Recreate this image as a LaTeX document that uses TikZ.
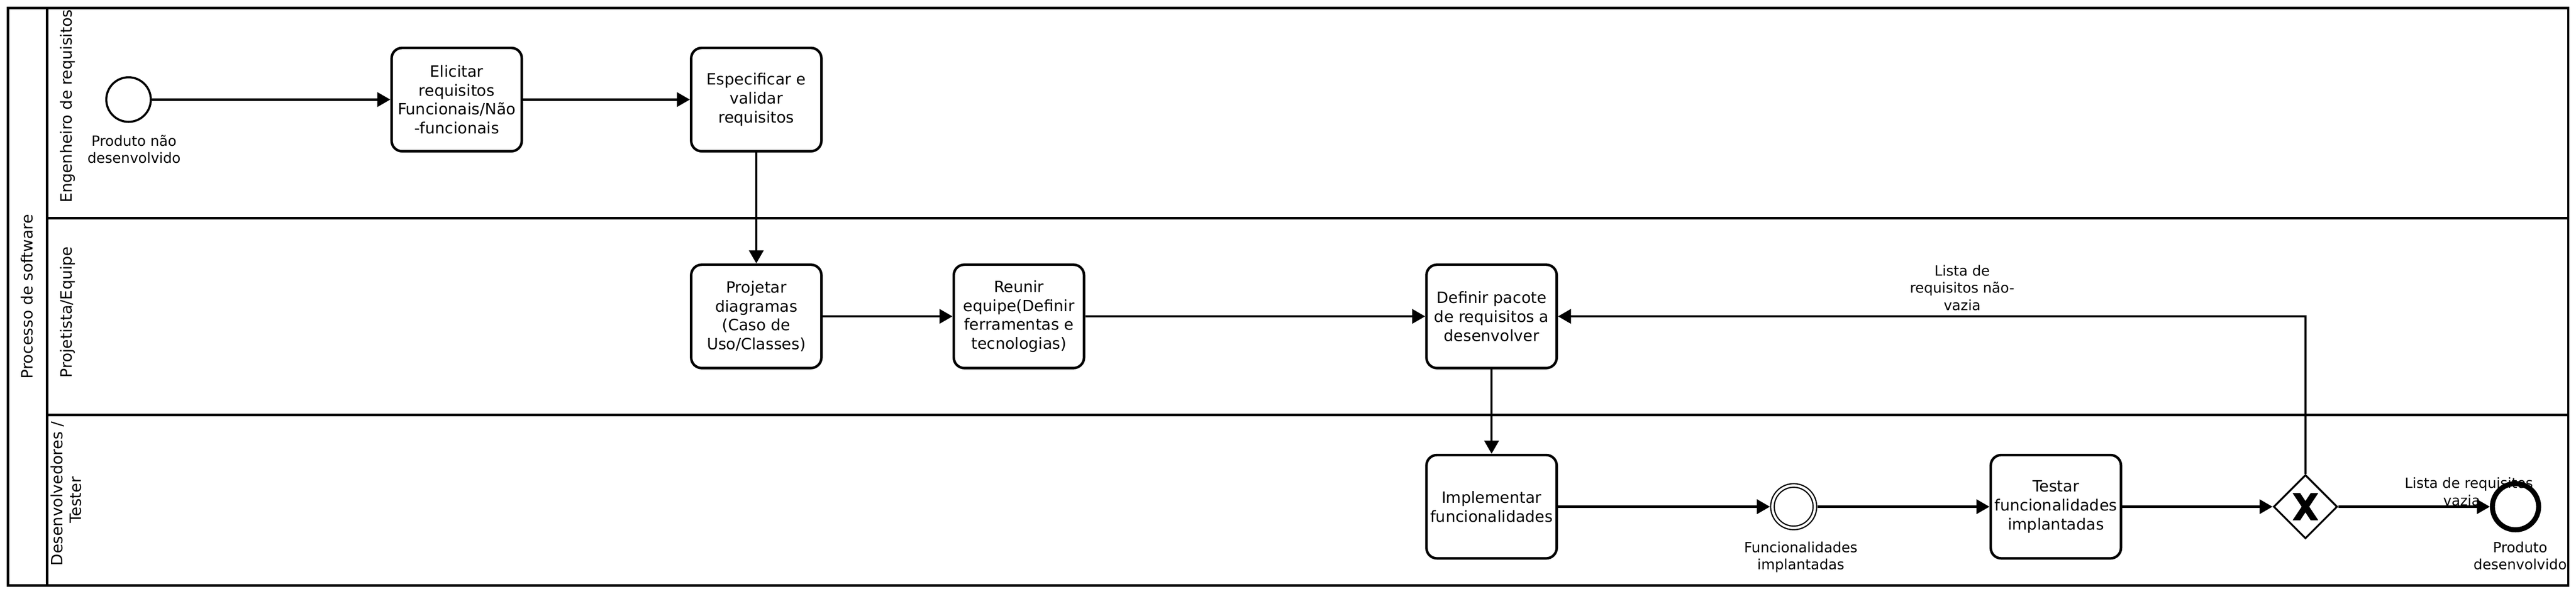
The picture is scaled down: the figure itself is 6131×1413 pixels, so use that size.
\documentclass[tikz,border=0pt]{standalone}
\usepackage{fontspec}
\setmainfont{DejaVu Sans}
\usetikzlibrary{arrows.meta,shapes.geometric}
\begin{document}
\begin{tikzpicture}[x=1pt,y=-1pt,
  task/.style={draw, line width=6pt, rounded corners=25pt, minimum width=310pt, minimum height=246pt, inner sep=0pt, align=center, font=\fontsize{37pt}{45pt}\selectfont},
  lanelbl/.style={rotate=90, align=center, inner sep=0pt, font=\fontsize{37pt}{44pt}\selectfont},
  evlbl/.style={align=center, inner sep=0pt, font=\fontsize{33.5pt}{41pt}\selectfont},
  flow/.style={line width=5.5pt, -{Triangle[length=31pt,width=34pt]}},
  laneline/.style={line width=6pt},
  event/.style={circle, draw, inner sep=0pt},
]
\useasboundingbox (0,0) rectangle (6131,1413);
\fill[white] (0,0) rectangle (6131,1413);

% pool and lanes
\draw[laneline] (18.5,18.5) rectangle (6112.5,1393.5);
\draw[laneline] (112,18.5) -- (112,1393.5);
\draw[laneline] (112,519.5) -- (6112.5,519.5);
\draw[laneline] (112,987.5) -- (6112.5,987.5);

\node[lanelbl] (pool) at (64,706) {Processo de software};
\node[lanelbl] (lane1) at (161,253) {Engenheiro de requisitos};
\node[lanelbl] (lane2) at (161,743) {Projetista/Equipe};
\node[lanelbl] (lane3) at (157,1175) {Desenvolvedores /\\Tester\hspace*{30pt}};

% events
\node[event, line width=5pt, minimum size=106pt] (start) at (306,237) {};
\node[evlbl] (startlbl) at (319,355) {Produto não\\desenvolvido};

\node[event, line width=3pt, double, double distance=5.5pt, minimum size=101pt, outer sep=6pt] (inter) at (4269,1206) {};
\node[evlbl] (interlbl) at (4286,1326) {Funcionalidades\\implantadas};

\node[event, line width=12pt, minimum size=110pt] (endev) at (5987,1206) {};
\node[evlbl] (endlbl) at (5998,1323) {Produto\\desenvolvido};

% tasks
\node[task] (elicitar) at (1087,237) {Elicitar\\requisitos\\Funcionais/Não\\-funcionais};
\node[task] (especificar) at (1800,237) {Especificar e\\validar\\requisitos};
\node[task] (projetar) at (1800,753) {Projetar\\diagramas\\(Caso de\\Uso/Classes)};
\node[task] (reunir) at (2425,753) {Reunir\\equipe(Definir\\ferramentas e\\tecnologias)};
\node[task] (definir) at (3550,753) {Definir pacote\\de requisitos a\\desenvolver};
\node[task] (implementar) at (3550,1206) {Implementar\\funcionalidades};
\node[task] (testar) at (4893,1206) {Testar\\funcionalidades\\implantadas};

% gateway
\node[diamond, aspect=1, draw, line width=4.5pt, minimum width=152pt, minimum height=152pt, inner sep=0pt] (gw) at (5487,1206) {};
\begin{scope}
  \clip (5447,1174) rectangle (5527,1238);
  \draw[line width=15pt] (5463,1170) -- (5511,1242);
  \draw[line width=15pt] (5511,1170) -- (5463,1242);
\end{scope}

% edge labels
\node[evlbl] (lblnao) at (4670,685) {Lista de\\requisitos não-\\vazia};
\node[evlbl] (lblvazia) at (5876,1170) {Lista de requisitos\\vazia\hspace*{34pt}};

% flows
\draw[flow] (start) -- (elicitar);
\draw[flow] (elicitar) -- (especificar);
\draw[flow] (especificar) -- (projetar);
\draw[flow] (projetar) -- (reunir);
\draw[flow] (reunir) -- (definir);
\draw[flow] (definir) -- (implementar);
\draw[flow] (implementar) -- (inter);
\draw[flow] (inter) -- (testar);
\draw[flow] (testar) -- (gw);
\draw[flow] (gw) -- (endev);
\draw[flow] (gw.north) |- (definir.east);
\end{tikzpicture}
\end{document}
